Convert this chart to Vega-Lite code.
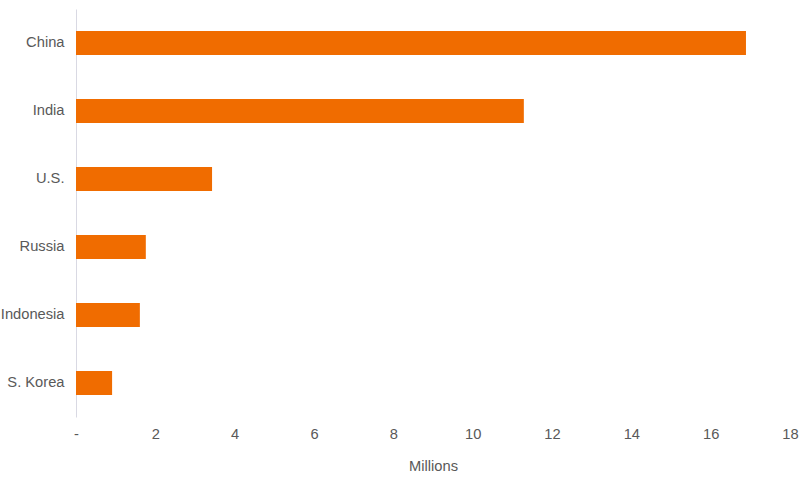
{
  "$schema": "https://vega.github.io/schema/vega-lite/v6.json",
  "width": 714,
  "height": 408,
  "autosize": {"type": "none"},
  "padding": {"left": 76, "top": 9, "right": 14, "bottom": 62},
  "background": "white",
  "config": {"view": {"stroke": null}, "font": "Liberation Sans"},
  "data": {
    "values": [
      {"country": "China", "value": 16.89},
      {"country": "India", "value": 11.29},
      {"country": "U.S.", "value": 3.43},
      {"country": "Russia", "value": 1.76},
      {"country": "Indonesia", "value": 1.61},
      {"country": "S. Korea", "value": 0.91}
    ]
  },
  "mark": {"type": "bar", "color": "#F06C00"},
  "encoding": {
    "y": {
      "field": "country",
      "type": "nominal",
      "sort": null,
      "scale": {"paddingInner": 0.647, "paddingOuter": 0.3235},
      "axis": {
        "title": null,
        "ticks": false,
        "domainColor": "#D9D9E3",
        "domainWidth": 1,
        "labelFont": "Liberation Sans",
        "labelFontSize": 14.7,
        "labelColor": "#595959",
        "labelPadding": 12
      }
    },
    "x": {
      "field": "value",
      "type": "quantitative",
      "scale": {"domain": [0, 18], "nice": false},
      "axis": {
        "title": "Millions",
        "values": [0, 2, 4, 6, 8, 10, 12, 14, 16, 18],
        "labelExpr": "datum.value == 0 ? '-' : datum.label",
        "grid": false,
        "domain": false,
        "ticks": false,
        "labelFont": "Liberation Sans",
        "labelFontSize": 14.7,
        "labelColor": "#595959",
        "labelPadding": 9,
        "labelFlush": false,
        "titleFont": "Liberation Sans",
        "titleFontSize": 14.7,
        "titleFontWeight": "normal",
        "titleColor": "#595959",
        "titlePadding": 18
      }
    }
  }
}
